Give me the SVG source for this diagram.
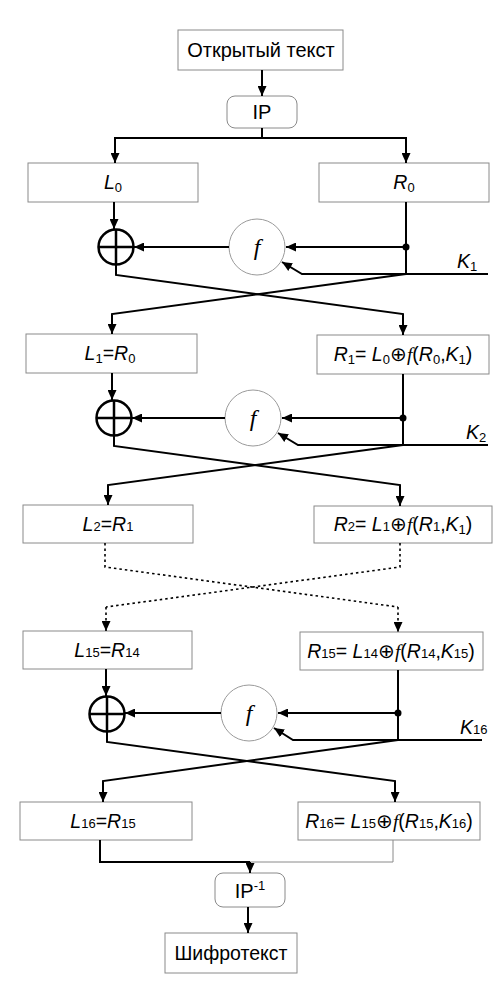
<svg xmlns="http://www.w3.org/2000/svg" width="497" height="989" viewBox="0 0 497 989">
<defs>
<marker id="ah" markerUnits="userSpaceOnUse" markerWidth="10" markerHeight="9" refX="10" refY="4.5" orient="auto">
<path d="M0,0 L10,4.5 L0,9 z" fill="#000"/>
</marker>
<style>
.box{fill:#fff;stroke:#8a8a8a;stroke-width:1}
.xor{fill:none;stroke:#000;stroke-width:2.5}
.fc{fill:#fff;stroke:#9a9a9a;stroke-width:1}
.ln{fill:none;stroke:#000;stroke-width:2}
.lnA{fill:none;stroke:#000;stroke-width:2;marker-end:url(#ah)}
.thin{fill:none;stroke:#8a8a8a;stroke-width:1}
.dot{fill:none;stroke:#000;stroke-width:1.6;stroke-dasharray:2.5,3}
.dotA{fill:none;stroke:#000;stroke-width:1.6;stroke-dasharray:2.5,3;marker-end:url(#ah)}
text{font-family:"Liberation Sans",Arial,sans-serif;font-size:19.5px;fill:#000}
.t{text-anchor:middle}
.i{font-style:italic}
.s{font-size:13px}
.big{font-size:20px}
.ff{font-family:"Liberation Serif","Times New Roman",serif;font-style:italic}
.fbig{font-family:"Liberation Serif","Times New Roman",serif;font-style:italic;font-size:24px;text-anchor:middle}
</style>
</defs>

<g id="plaintext"><rect class="box" x="178" y="30" width="165" height="40"/><text class="t big" x="261" y="57">Открытый текст</text></g>
<g id="ip"><rect class="box" x="227" y="96" width="70" height="32" rx="8"/><text class="t big" x="262" y="119">IP</text></g>

<g id="L0"><rect class="box" x="28" y="163" width="170" height="39"/><text class="t" x="113" y="189"><tspan class="i">L</tspan><tspan class="s" dy="3">0</tspan></text></g>
<g id="R0"><rect class="box" x="319" y="163" width="170" height="39"/><text class="t" x="404" y="189"><tspan class="i">R</tspan><tspan class="s" dy="3">0</tspan></text></g>
<g id="xor1"><circle class="xor" cx="116" cy="247" r="17.5"/><path class="xor" d="M98.5,247 H133.5 M116,229.5 V264.5"/></g>
<g id="f1"><circle class="fc" cx="257" cy="247" r="28"/><text class="fbig" x="257" y="255">f</text></g>
<g id="K1"><text x="457" y="268"><tspan class="i">K</tspan><tspan class="s" dy="3">1</tspan></text></g>

<g id="L1"><rect class="box" x="26" y="334" width="171" height="39"/><text class="t" x="110" y="360"><tspan class="i">L</tspan><tspan class="s" dy="3">1</tspan><tspan dy="-3">=</tspan><tspan class="i">R</tspan><tspan class="s" dy="3">0</tspan></text></g>
<g id="R1"><rect class="box" x="317" y="335" width="172" height="39"/><text class="t" x="403" y="361"><tspan class="i">R</tspan><tspan class="s" dy="3">1</tspan><tspan dy="-3">= </tspan><tspan class="i">L</tspan><tspan class="s" dy="3">0</tspan><tspan dy="-3">⊕</tspan><tspan class="ff">f</tspan><tspan>(</tspan><tspan class="i">R</tspan><tspan class="s" dy="3">0</tspan><tspan dy="-3">,</tspan><tspan class="i">K</tspan><tspan class="s" dy="3">1</tspan><tspan dy="-3">)</tspan></text></g>
<g id="xor2"><circle class="xor" cx="114" cy="418" r="17.5"/><path class="xor" d="M96.5,418 H131.5 M114,400.5 V435.5"/></g>
<g id="f2"><circle class="fc" cx="253" cy="418" r="28"/><text class="fbig" x="253" y="426">f</text></g>
<g id="K2"><text x="466" y="439"><tspan class="i">K</tspan><tspan class="s" dy="3">2</tspan></text></g>

<g id="L2"><rect class="box" x="23" y="505" width="170" height="38"/><text class="t" x="108" y="531"><tspan class="i">L</tspan><tspan class="s">2</tspan><tspan>=</tspan><tspan class="i">R</tspan><tspan class="s">1</tspan></text></g>
<g id="R2"><rect class="box" x="314" y="506" width="178" height="37"/><text class="t" x="403" y="531"><tspan class="i">R</tspan><tspan class="s">2</tspan><tspan>= </tspan><tspan class="i">L</tspan><tspan class="s">1</tspan><tspan>⊕</tspan><tspan class="ff">f</tspan><tspan>(</tspan><tspan class="i">R</tspan><tspan class="s">1</tspan><tspan>,</tspan><tspan class="i">K</tspan><tspan class="s" dy="3">1</tspan><tspan dy="-3">)</tspan></text></g>

<g id="L15"><rect class="box" x="23" y="631" width="169" height="38"/><text class="t" x="107" y="657"><tspan class="i">L</tspan><tspan class="s">15</tspan><tspan>=</tspan><tspan class="i">R</tspan><tspan class="s">14</tspan></text></g>
<g id="R15"><rect class="box" x="300" y="632" width="183" height="38"/><text class="t" x="391" y="658"><tspan class="i">R</tspan><tspan class="s">15</tspan><tspan>= </tspan><tspan class="i">L</tspan><tspan class="s">14</tspan><tspan>⊕</tspan><tspan class="ff">f</tspan><tspan>(</tspan><tspan class="i">R</tspan><tspan class="s">14</tspan><tspan>,</tspan><tspan class="i">K</tspan><tspan class="s">15</tspan><tspan>)</tspan></text></g>
<g id="xor16"><circle class="xor" cx="107" cy="714" r="17.5"/><path class="xor" d="M89.5,714 H124.5 M107,696.5 V731.5"/></g>
<g id="f16"><circle class="fc" cx="249" cy="713" r="28"/><text class="fbig" x="249" y="721">f</text></g>
<g id="K16"><text x="460" y="734"><tspan class="i">K</tspan><tspan class="s">16</tspan></text></g>

<g id="L16"><rect class="box" x="20" y="802" width="172" height="38"/><text class="t" x="103" y="828"><tspan class="i">L</tspan><tspan class="s">16</tspan><tspan>=</tspan><tspan class="i">R</tspan><tspan class="s">15</tspan></text></g>
<g id="R16"><rect class="box" x="298" y="802" width="182" height="38"/><text class="t" x="389" y="828"><tspan class="i">R</tspan><tspan class="s">16</tspan><tspan>= </tspan><tspan class="i">L</tspan><tspan class="s">15</tspan><tspan>⊕</tspan><tspan class="ff">f</tspan><tspan>(</tspan><tspan class="i">R</tspan><tspan class="s">15</tspan><tspan>,</tspan><tspan class="i">K</tspan><tspan class="s">16</tspan><tspan>)</tspan></text></g>

<g id="ipinv"><rect class="box" x="215" y="873" width="70" height="34" rx="8"/><text class="t big" x="250" y="898">IP<tspan class="s" dy="-8">-1</tspan></text></g>
<g id="ciphertext"><rect class="box" x="165" y="933" width="132" height="40"/><text class="t" x="231" y="960">Шифротекст</text></g>

<g id="connectors">
<path class="lnA" d="M262,70 V96"/>
<path class="lnA" d="M262,128 V138 H115 V163"/>
<path class="lnA" d="M262,138 H406 V163"/>

<path class="lnA" d="M114,202 V229"/>
<path class="ln" d="M406,202 V274"/>
<circle cx="406" cy="247" r="3.5" fill="#000"/>
<path class="lnA" d="M406,247 H286"/>
<path class="lnA" d="M229,247 H134"/>
<path class="lnA" d="M488,274 H302 L282,262"/>
<path class="lnA" d="M116,264 V275 L403,314 V335"/>
<path class="lnA" d="M406,274 L112,314 V334"/>

<path class="lnA" d="M112,373 V400"/>
<path class="ln" d="M403,374 V445"/>
<circle cx="403" cy="418" r="3.5" fill="#000"/>
<path class="lnA" d="M403,418 H282"/>
<path class="lnA" d="M225,418 H132"/>
<path class="lnA" d="M488,445 H298 L278,433"/>
<path class="lnA" d="M114,435 V446 L400,485 V506"/>
<path class="lnA" d="M403,445 L108,485 V505"/>

<path class="dot" d="M105,543 V567 L398,607"/>
<path class="dotA" d="M398,607 V632"/>
<path class="dot" d="M400,543 V567 L106,607"/>
<path class="dotA" d="M106,607 V631"/>

<path class="lnA" d="M106,669 V696"/>
<path class="ln" d="M398,670 V740"/>
<circle cx="398" cy="713" r="3.5" fill="#000"/>
<path class="lnA" d="M398,713 H278"/>
<path class="lnA" d="M221,713 H125"/>
<path class="lnA" d="M482,740 H293 L274,728"/>
<path class="lnA" d="M107,731 V742 L395,781 V802"/>
<path class="lnA" d="M398,740 L103,781 V802"/>

<path class="ln" d="M100,840 V862 H250"/>
<path class="thin" d="M393,840 V862 H250"/>
<path class="lnA" d="M250,862 V873"/>
<path class="lnA" d="M248,907 V933"/>
</g>
</svg>
